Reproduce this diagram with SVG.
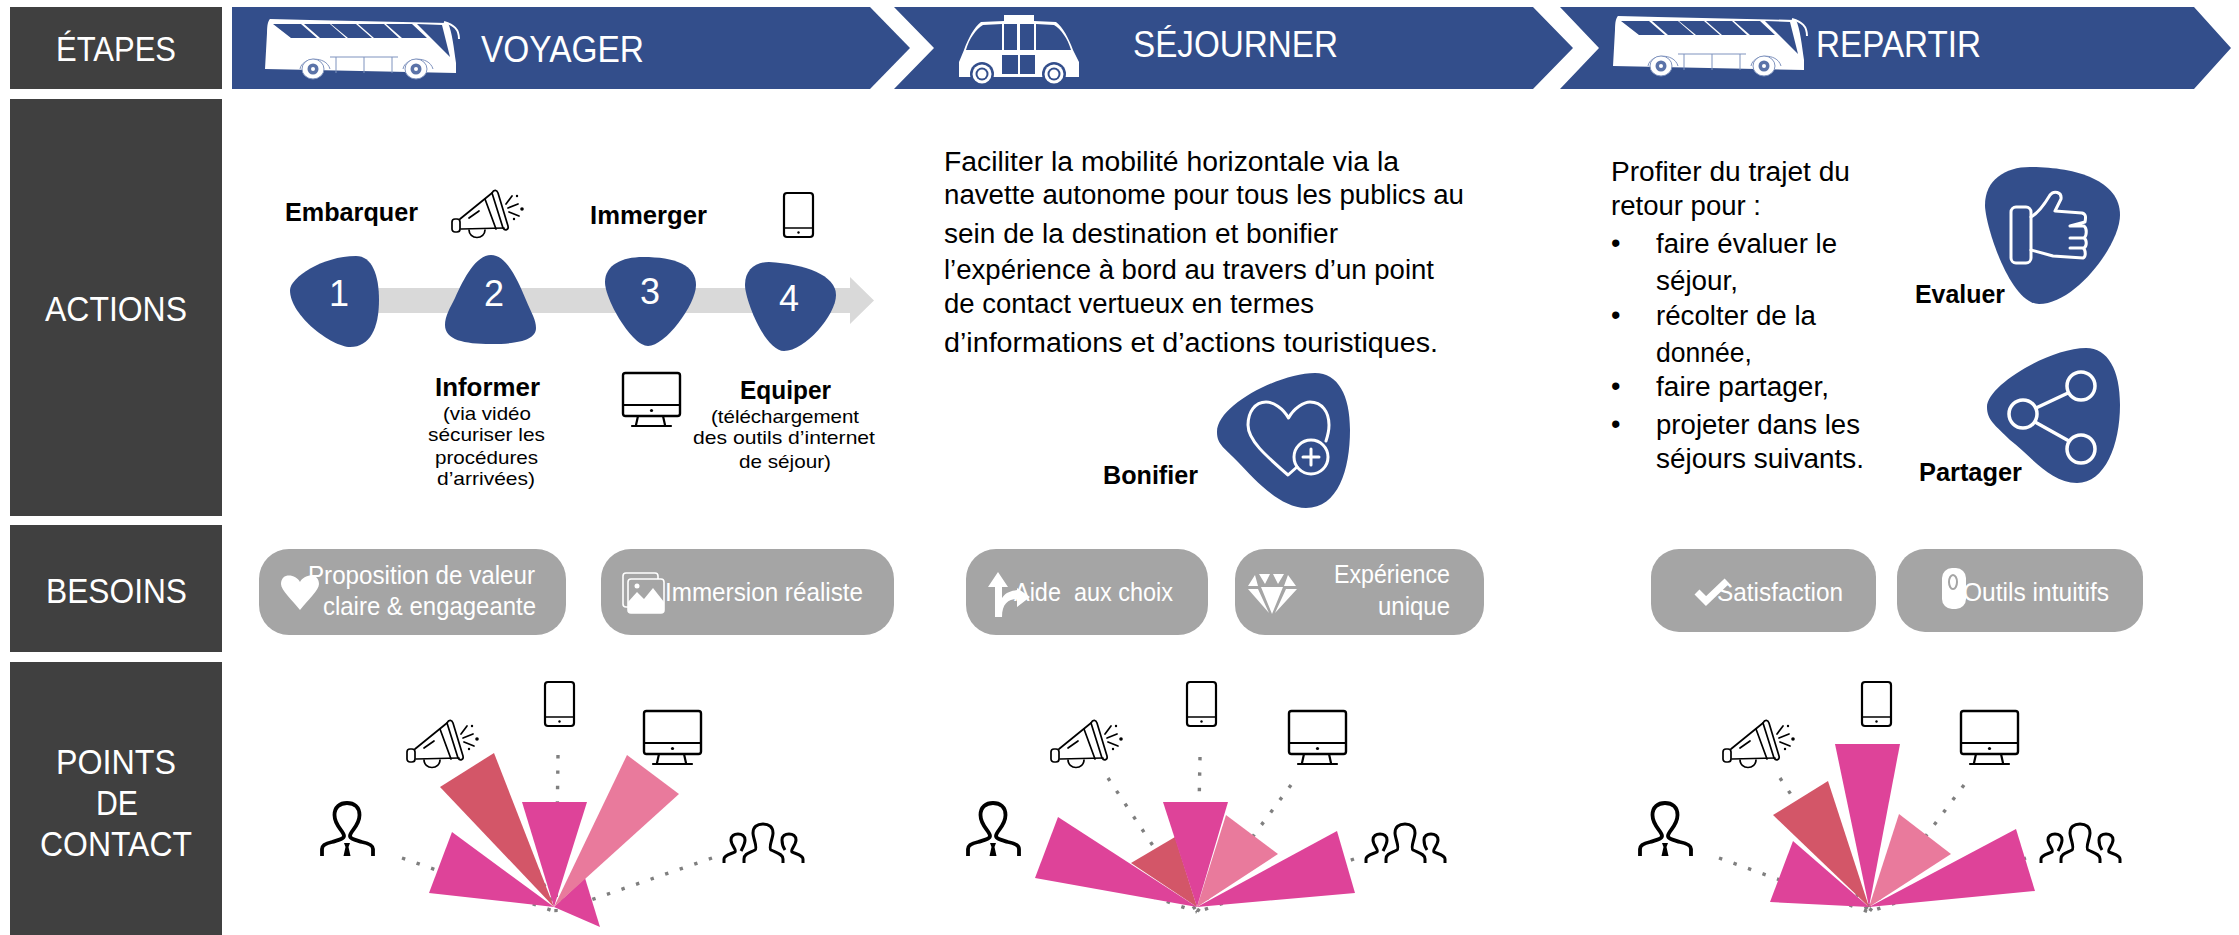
<svg xmlns="http://www.w3.org/2000/svg" width="2239" height="935" viewBox="0 0 2239 935">
<style>
text{font-family:"Liberation Sans",Arial,sans-serif}
.dark{fill:#404040}
.blue{fill:#334E8B}
.pill{fill:#A5A5A5}
.hd{fill:#fff;font-size:35px}
.num{fill:#fff;font-size:36px}
.b{fill:#000;font-size:25px;font-weight:bold}
.s{fill:#000;font-size:19px}
.p{fill:#000;font-size:27px}
.w{fill:#fff;font-size:25px}
.ic{fill:none;stroke:#000;stroke-width:2.2;stroke-linejoin:round;stroke-linecap:round}
.wl{fill:none;stroke:#fff;stroke-width:3;stroke-linejoin:round;stroke-linecap:round}
.dot{fill:none;stroke:#7f7f7f;stroke-width:3.4;stroke-dasharray:3.4 12}
.pk{fill:#DE4399}
.rd{fill:#D35668}
.lt{fill:#E97A9C}
.bl{fill:none;stroke:#7F93BE;stroke-width:1}
</style>
<defs>
<symbol id="bus" viewBox="0 0 198 60" overflow="visible">
<path d="M6 0 L46 1 L184 4 C188 12 190 30 192 44 L192 54 L1 50 L3 14 C3 6 4 2 6 0Z" fill="#fff"/>
<path class="blue" d="M9 5H37L53 19H27ZM40 5H66L82 19H56ZM67 5H92L108 19H84ZM94 5H120L135 19H110ZM122 5H148L163 19H138ZM153 5L178 6L186 38L170 22Z"/>
<path d="M180 3C190 6 195 10 195 20" fill="none" stroke="#fff" stroke-width="2"/>
<path class="bl" d="M66 38H134M72 38V54M100 38V54M128 38V54M36 50C38 38 62 36 66 50M139 50C141 38 165 36 169 50"/>
<ellipse cx="49" cy="50" rx="11" ry="10" fill="#fff" stroke="#7F93BE"/><circle cx="49" cy="50" r="5.500" fill="#5B73A8"/><circle cx="49" cy="50" r="2" fill="#fff"/>
<ellipse cx="152" cy="50" rx="11" ry="10" fill="#fff" stroke="#7F93BE"/><circle cx="152" cy="50" r="5.500" fill="#5B73A8"/><circle cx="152" cy="50" r="2" fill="#fff"/>
</symbol>
<symbol id="shuttle" viewBox="0 0 120 68" overflow="visible">
<path d="M45 0H75V6L97 7C104 12 110 24 114 35L120 47V62H0V47L5 35C9 24 15 12 22 7L45 6Z" fill="#fff"/>
<path class="blue" d="M43 9V35H7C10 24 17 14 24 10ZM45 9H58V35H45ZM61 9H75V35H61ZM77 9V35H112C109 24 102 14 95 10ZM43 40H59V59H43ZM61 40H76V59H61Z"/>
<circle cx="23" cy="59" r="12" fill="#334E8B"/><circle cx="23" cy="59" r="9.500" fill="#fff"/><circle cx="23" cy="59" r="6.500" fill="#334E8B"/><circle cx="23" cy="59" r="4.500" fill="#fff"/>
<circle cx="95" cy="59" r="12" fill="#334E8B"/><circle cx="95" cy="59" r="9.500" fill="#fff"/><circle cx="95" cy="59" r="6.500" fill="#334E8B"/><circle cx="95" cy="59" r="4.500" fill="#fff"/>
</symbol>
<symbol id="mega" viewBox="0 0 73 47" overflow="visible">
<g class="ic" style="stroke-width:1.7">
<path d="M9 29L41 3M10 39L53 38"/>
<path d="M41 3C43 -1 46 0 47 3L57 36C58 40 54 41 52 38Z"/>
<path d="M34 9L45 39"/>
<rect x="1" y="29" width="8" height="13" rx="3"/>
<path d="M18 40A8 7.500 0 0 0 34 40"/>
<path d="M18 28L28 21M55 14L61 6M57 18L67 14M58 22L68 26"/>
</g>
<circle cx="66" cy="6" r="1.200"/><circle cx="71" cy="19" r="1.800"/><circle cx="63" cy="29" r="1.200"/>
</symbol>
<symbol id="phone" viewBox="0 0 31 46" overflow="visible">
<rect class="ic" x="1" y="1" width="29" height="44" rx="3"/>
<path class="ic" d="M1 36H30" style="stroke-width:1.400"/><circle cx="15.500" cy="40.500" r="1.200"/>
</symbol>
<symbol id="monitor" viewBox="0 0 59 55" overflow="visible">
<rect class="ic" x="1" y="1" width="57" height="43" rx="2.500" style="stroke-width:2.400"/>
<path class="ic" d="M1 33H58M16 44L14 53M41 44L43 53M10 54H49"/><circle cx="29.500" cy="38.500" r="1.600"/>
</symbol>
<symbol id="person" viewBox="0 0 55 55" overflow="visible">
<path class="ic" style="stroke-width:3.800;stroke-linecap:butt" d="M2 54V47C2 43 7 41 12 40C18 38 24 37 24 34C24 29 14.500 24 14.500 13C14.500 5 20 1 27 1C34 1 39.500 5 39.500 13C39.500 24 30 29 30 34C30 37 36 38 42 40C47 41 53 43 53 47V54"/>
<path d="M24 41H30L28.500 45L30.500 54H23.500L25.500 45Z"/>
</symbol>
<symbol id="group" viewBox="0 0 82 41" overflow="visible">
<g class="ic" style="stroke-width:3;stroke-linecap:butt">
<path d="M21 40V36C21 31 26 30 32 27C35 25 30 15 30 10C30 4 34 1 40 1C46 1 50 4 50 10C50 15 45 25 48 27C54 30 60 31 60 36V40"/>
<path d="M1 40V36C1 32 8 31 12 29C14 27 8 22 8 17C8 13 11 11 15 11C19 11 22 13 22 17C22 21 20 24 18 28"/>
<path d="M80 40V36C80 32 73 31 69 29C67 27 73 22 73 17C73 13 70 11 66 11C62 11 59 13 59 17C59 21 60 24 62 27"/>
</g>
</symbol>
</defs>

<g id="row-labels">
<g id="etapes-label"><rect class="dark" x="10" y="7" width="212" height="82"/><text class="hd" x="56" y="61" textLength="120" lengthAdjust="spacingAndGlyphs">ÉTAPES</text></g>
<g id="actions-label"><rect class="dark" x="10" y="99" width="212" height="417"/><text class="hd" x="45" y="321" textLength="142" lengthAdjust="spacingAndGlyphs">ACTIONS</text></g>
<g id="besoins-label"><rect class="dark" x="10" y="525" width="212" height="127"/><text class="hd" x="46" y="603" textLength="141" lengthAdjust="spacingAndGlyphs">BESOINS</text></g>
<g id="points-label"><rect class="dark" x="10" y="662" width="212" height="273"/><text class="hd" x="56" y="774" textLength="120" lengthAdjust="spacingAndGlyphs">POINTS</text><text class="hd" x="96" y="815" textLength="42" lengthAdjust="spacingAndGlyphs">DE</text><text class="hd" x="40" y="856" textLength="152" lengthAdjust="spacingAndGlyphs">CONTACT</text></g>
</g>

<g id="voyager">
<polygon class="blue" points="232,7 870,7 910,48 870,89 232,89"/>
<use href="#bus" x="264" y="19" width="198" height="60"/>
<text class="hd" x="481" y="62" textLength="163" lengthAdjust="spacingAndGlyphs" style="font-size:37px">VOYAGER</text>
</g>
<g id="sejourner">
<polygon class="blue" points="894,7 1533,7 1573,48 1533,89 894,89 934,48"/>
<use href="#shuttle" x="959" y="15" width="120" height="68"/>
<text class="hd" x="1133" y="57" textLength="205" lengthAdjust="spacingAndGlyphs" style="font-size:37px">SÉJOURNER</text>
</g>
<g id="repartir">
<polygon class="blue" points="1560,7 2194,7 2231,48 2194,89 1560,89 1599,48"/>
<use href="#bus" x="1612" y="16" width="198" height="60"/>
<text class="hd" x="1816" y="57" textLength="165" lengthAdjust="spacingAndGlyphs" style="font-size:37px">REPARTIR</text>
</g>

<g id="connectors">
<path class="dot" d="M402 858L556 912M712 858L556 912M558 755L556 912M500 785L556 912M622 790L556 912"/>
<path class="dot" d="M1108 778L1197 912M1200 757L1197 912M1291 785L1197 912M1354 859L1197 912M1065 866L1197 912"/>
<path class="dot" d="M1719 858L1869 912M1780 778L1869 912M1964 785L1869 912M2026 858L1869 912M1876 750L1869 912"/>
<polygon fill="#D9D9D9" points="370,288 850,288 850,277 874,300.500 850,324 850,313 370,313"/>
</g>

<g id="step-1"><path class="blue" d="M356 256C372 256 379 275 379 300C379 328 370 347 350 347C332 347 290 316 290 290C290 278 322 256 356 256Z"/><text class="num" x="339" y="306" text-anchor="middle">1</text><text class="b" x="285" y="221" textLength="133" lengthAdjust="spacingAndGlyphs">Embarquer</text></g>
<g id="step-2"><path class="blue" d="M491 255C506 255 517 278 526 300C532 314 536 320 536 328C536 340 518 344 491 344C464 344 445 340 445 325C445 316 450 308 455 298C464 278 476 255 491 255Z"/><text class="num" x="494" y="306" text-anchor="middle">2</text><use href="#mega" x="451" y="190" width="73" height="47"/>
<text class="b" x="435" y="396" textLength="105" lengthAdjust="spacingAndGlyphs">Informer</text>
<text class="s" x="443" y="420" textLength="88" lengthAdjust="spacingAndGlyphs">(via vidéo</text><text class="s" x="428" y="441" textLength="117" lengthAdjust="spacingAndGlyphs">sécuriser les</text><text class="s" x="435" y="464" textLength="103" lengthAdjust="spacingAndGlyphs">procédures</text><text class="s" x="437" y="485" textLength="98" lengthAdjust="spacingAndGlyphs">d’arrivées)</text></g>
<g id="step-3"><path class="blue" d="M643 257C675 257 696 265 696 285C696 305 665 346 648 346C632 346 605 300 605 282C605 265 622 257 643 257Z"/><text class="num" x="650" y="304" text-anchor="middle">3</text><text class="b" x="590" y="224" textLength="117" lengthAdjust="spacingAndGlyphs">Immerger</text><use href="#monitor" x="622" y="372" width="59" height="55"/></g>
<g id="step-4"><path class="blue" d="M769 262C805 264 836 275 836 295C836 315 805 351 784 351C765 351 745 300 745 285C745 270 755 262 769 262Z"/><text class="num" x="789" y="311" text-anchor="middle">4</text><use href="#phone" x="783" y="192" width="31" height="46"/>
<text class="b" x="740" y="399" textLength="91" lengthAdjust="spacingAndGlyphs">Equiper</text>
<text class="s" x="711" y="423" textLength="148" lengthAdjust="spacingAndGlyphs">(téléchargement</text><text class="s" x="693" y="444" textLength="182" lengthAdjust="spacingAndGlyphs">des outils d’internet</text><text class="s" x="739" y="468" textLength="92" lengthAdjust="spacingAndGlyphs">de séjour)</text></g>

<g id="sejourner-text">
<text class="p" x="944" y="171" textLength="455" lengthAdjust="spacingAndGlyphs">Faciliter la mobilité horizontale via la</text>
<text class="p" x="944" y="204" textLength="520" lengthAdjust="spacingAndGlyphs">navette autonome pour tous les publics au</text>
<text class="p" x="944" y="243" textLength="394" lengthAdjust="spacingAndGlyphs">sein de la destination et bonifier</text>
<text class="p" x="944" y="279" textLength="490" lengthAdjust="spacingAndGlyphs">l’expérience à bord au travers d’un point</text>
<text class="p" x="944" y="313" textLength="370" lengthAdjust="spacingAndGlyphs">de contact vertueux en termes</text>
<text class="p" x="944" y="352" textLength="494" lengthAdjust="spacingAndGlyphs">d’informations et d’actions touristiques.</text>
</g>
<g id="bonifier">
<path class="blue" d="M1315 373C1338 373 1350 395 1350 430C1350 470 1338 508 1306 508C1280 508 1255 480 1238 462C1225 448 1217 445 1217 432C1217 405 1280 373 1315 373Z"/>
<path class="wl" d="M1297 467L1288 475C1265 455 1248 440 1248 425C1248 412 1255 402 1266 402C1273 402 1283 408 1288.500 418C1294 408 1304 402 1310 402C1322 402 1329 412 1329 425C1329 430 1328 435 1326 441"/>
<circle class="wl" cx="1311" cy="457" r="17"/><path class="wl" d="M1311 449V465M1303 457H1319"/>
<text class="b" x="1103" y="484" textLength="95" lengthAdjust="spacingAndGlyphs">Bonifier</text>
</g>

<g id="repartir-text">
<text class="p" x="1611" y="181" textLength="239" lengthAdjust="spacingAndGlyphs">Profiter du trajet du</text>
<text class="p" x="1611" y="215" textLength="150" lengthAdjust="spacingAndGlyphs">retour pour :</text>
<text class="p" x="1611" y="252">•</text><text class="p" x="1656" y="253" textLength="181" lengthAdjust="spacingAndGlyphs">faire évaluer le</text>
<text class="p" x="1656" y="290" textLength="82" lengthAdjust="spacingAndGlyphs">séjour,</text>
<text class="p" x="1611" y="324">•</text><text class="p" x="1656" y="325" textLength="160" lengthAdjust="spacingAndGlyphs">récolter de la</text>
<text class="p" x="1656" y="362" textLength="96" lengthAdjust="spacingAndGlyphs">donnée,</text>
<text class="p" x="1611" y="395">•</text><text class="p" x="1656" y="396" textLength="173" lengthAdjust="spacingAndGlyphs">faire partager,</text>
<text class="p" x="1611" y="433">•</text><text class="p" x="1656" y="434" textLength="204" lengthAdjust="spacingAndGlyphs">projeter dans les</text>
<text class="p" x="1656" y="468" textLength="208" lengthAdjust="spacingAndGlyphs">séjours suivants.</text>
</g>
<g id="evaluer">
<path class="blue" d="M2030 167C2075 167 2120 180 2120 215C2120 245 2075 304 2039 304C2010 304 1985 225 1985 205C1985 180 2005 167 2030 167Z"/>
<rect class="wl" x="2011" y="207" width="20" height="56" rx="5"/>
<path class="wl" d="M2031 217C2040 212 2047 200 2050 195C2054 190 2062 192 2061 199L2055 211L2082 213C2086 214 2086 217 2085 222L2070 226M2070 226H2084C2087 228 2087 236 2084 238H2070M2070 238H2084C2087 240 2087 246 2084 248H2070M2070 248H2083C2086 250 2086 257 2083 258L2053 256L2031 250"/>
<text class="b" x="1915" y="303" textLength="90" lengthAdjust="spacingAndGlyphs">Evaluer</text>
</g>
<g id="partager">
<path class="blue" d="M2086 348C2108 348 2120 370 2120 405C2120 445 2105 483 2077 483C2050 483 2030 455 2010 440C1995 425 1987 420 1987 407C1987 385 2050 348 2086 348Z"/>
<circle class="wl" cx="2081" cy="386" r="14" style="stroke-width:3.500"/><circle class="wl" cx="2023" cy="414" r="14" style="stroke-width:3.500"/><circle class="wl" cx="2081" cy="449" r="14" style="stroke-width:3.500"/>
<path class="wl" d="M2036 408L2068 393M2035 422L2069 441" style="stroke-width:3.500"/>
<text class="b" x="1919" y="481" textLength="103" lengthAdjust="spacingAndGlyphs">Partager</text>
</g>

<g id="besoin-1"><rect class="pill" x="259" y="549" width="307" height="86" rx="30"/><path fill="#fff" d="M300 610C292 600 281 590 281 584C281 572 296 574 300 582C304 574 319 572 319 584C319 590 308 600 300 610Z"/><text class="w" x="308" y="584" textLength="227" lengthAdjust="spacingAndGlyphs">Proposition de valeur</text><text class="w" x="323" y="615" textLength="213" lengthAdjust="spacingAndGlyphs">claire &amp; engageante</text></g>
<g id="besoin-2"><rect class="pill" x="601" y="549" width="293" height="86" rx="30"/><rect x="623" y="573" width="35" height="34" rx="3" fill="none" stroke="#fff" stroke-width="1.600"/><rect x="628" y="579" width="36" height="34" rx="3" fill="#A5A5A5" stroke="#fff" stroke-width="1.600"/><path fill="#fff" d="M628 610V602L637 592L644 599L653 588L664 602V610Q664 613 661 613H631Q628 613 628 610Z"/><circle cx="637" cy="586" r="2.500" fill="#fff"/><text class="w" x="665" y="601" textLength="198" lengthAdjust="spacingAndGlyphs">Immersion réaliste</text></g>
<g id="besoin-3"><rect class="pill" x="966" y="549" width="242" height="86" rx="30"/><path fill="#fff" d="M998 572L1008 587H1002V598C1006 592 1011 591 1017 590V588L1030 597L1017 607V599C1008 599 1002 604 1002 617H995V587H988Z"/><text class="w" x="1014" y="601" textLength="159" lengthAdjust="spacingAndGlyphs" xml:space="preserve">Aide  aux choix</text></g>
<g id="besoin-4"><rect class="pill" x="1235" y="549" width="249" height="86" rx="30"/><path fill="#fff" d="M1248 586L1255 575L1258 586ZM1259 574H1270L1265 584ZM1273 574H1284L1278 584ZM1288 575L1296 586H1284ZM1261 587H1283L1272 614ZM1248 589H1258L1269 613ZM1286 589H1297L1275 613Z"/><text class="w" x="1334" y="583" textLength="116" lengthAdjust="spacingAndGlyphs">Expérience</text><text class="w" x="1378" y="615" textLength="72" lengthAdjust="spacingAndGlyphs">unique</text></g>
<g id="besoin-5"><rect class="pill" x="1651" y="549" width="225" height="83" rx="28"/><text class="w" x="1717" y="601" textLength="126" lengthAdjust="spacingAndGlyphs">Satisfaction</text><path d="M1697 592L1706 601L1727 581" fill="none" stroke="#fff" stroke-width="7"/></g>
<g id="besoin-6"><rect class="pill" x="1897" y="549" width="246" height="83" rx="28"/><text class="w" x="1963" y="601" textLength="146" lengthAdjust="spacingAndGlyphs">Outils intuitifs</text><rect x="1942" y="568" width="24" height="41" rx="10" fill="#fff"/><ellipse cx="1953" cy="582" rx="4" ry="7" fill="none" stroke="#A5A5A5" stroke-width="2"/></g>

<g id="fan-voyager">
<polygon class="pk" points="554,907 585,878 600,927"/>
<polygon class="pk" points="554,907 452,832 429,893"/>
<polygon class="rd" points="554,907 494,753 440,787"/>
<polygon class="pk" points="554,907 522,802 587,802"/>
<polygon class="lt" points="554,907 627,755 679,794"/>
<use href="#mega" x="406" y="720" width="73" height="47"/><use href="#phone" x="544" y="681" width="31" height="46"/><use href="#monitor" x="643" y="710" width="59" height="55"/><use href="#person" x="320" y="802" width="55" height="55"/><use href="#group" x="723" y="823" width="82" height="41"/>
</g>
<g id="fan-sejourner">
<polygon class="rd" points="1197,907 1175,837 1131,863"/>
<polygon class="lt" points="1197,907 1226,815 1278,854"/>
<polygon class="pk" points="1197,907 1058,817 1035,878"/>
<polygon class="pk" points="1197,907 1163,802 1228,802"/>
<polygon class="pk" points="1197,907 1337,831 1355,893"/>
<use href="#mega" x="1050" y="720" width="73" height="47"/><use href="#phone" x="1186" y="681" width="31" height="46"/><use href="#monitor" x="1288" y="710" width="59" height="55"/><use href="#person" x="966" y="802" width="55" height="55"/><use href="#group" x="1365" y="823" width="82" height="41"/>
</g>
<g id="fan-repartir">
<polygon class="pk" points="1869,907 1793,841 1770,902"/>
<polygon class="rd" points="1869,907 1828,781 1773,815"/>
<polygon class="pk" points="1869,907 1835,744 1900,744"/>
<polygon class="lt" points="1869,907 1899,814 1951,854"/>
<polygon class="pk" points="1869,907 2016,829 2035,891"/>
<use href="#mega" x="1722" y="720" width="73" height="47"/><use href="#phone" x="1861" y="681" width="31" height="46"/><use href="#monitor" x="1960" y="710" width="59" height="55"/><use href="#person" x="1638" y="802" width="55" height="55"/><use href="#group" x="2040" y="823" width="82" height="41"/>
</g>
</svg>
